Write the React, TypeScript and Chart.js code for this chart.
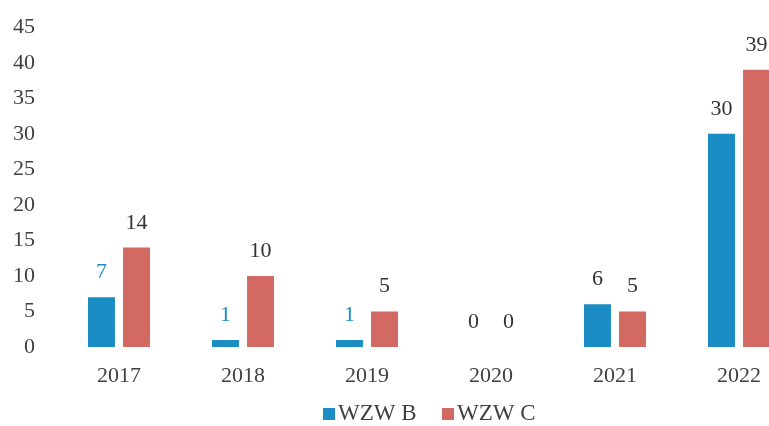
import React, { useEffect, useRef } from "react";
import { Chart, registerables } from "chart.js";

Chart.register(...registerables);

const categories = ["2017", "2018", "2019", "2020", "2021", "2022"];
const seriesB = [7, 1, 1, 0, 6, 30];
const seriesC = [14, 10, 5, 0, 5, 39];
const labelColorsB = ["#1b8cc4", "#1b8cc4", "#1b8cc4", "#333333", "#333333", "#333333"];
const labelColorsC = ["#333333", "#333333", "#333333", "#333333", "#333333", "#333333"];

const COLOR_B = "#1b8cc4";
const COLOR_C = "#d26a63";
const FONT = "'Liberation Serif', 'Times New Roman', serif";

// legend marker: 12px square placed at the right side of a wider transparent image
function makeMarker(color: string) {
  const c = document.createElement("canvas");
  c.width = 36;
  c.height = 12;
  const g = c.getContext("2d")!;
  g.fillStyle = color;
  g.fillRect(24, 0, 12, 12);
  return c;
}

const valueLabels = {
  id: "valueLabels",
  afterDatasetsDraw(chart: any) {
    const ctx = chart.ctx;
    ctx.save();
    ctx.font = `22px ${FONT}`;
    ctx.textAlign = "center";
    ctx.textBaseline = "alphabetic";
    chart.data.datasets.forEach((ds: any, di: number) => {
      const meta = chart.getDatasetMeta(di);
      meta.data.forEach((bar: any, i: number) => {
        ctx.fillStyle = ds.labelColors[i];
        ctx.fillText(String(ds.data[i]), bar.x, bar.y - 19);
      });
    });
    ctx.restore();
  },
};

// nudge the legend box after layout so it sits where the reference has it
const legendShift = {
  id: "legendShift",
  afterLayout(chart: any) {
    const lg = chart.legend;
    if (!lg) return;
    lg.left += 21;
    lg.right += 21;
    lg.top -= 1;
    lg.bottom -= 1;
  },
};

export default function App() {
  const ref = useRef<HTMLCanvasElement>(null);
  useEffect(() => {
    const markers = [makeMarker(COLOR_B), makeMarker(COLOR_C)];
    const chart = new Chart(ref.current!, {
      type: "bar",
      data: {
        labels: categories,
        datasets: [
          {
            label: "WZW B",
            data: seriesB,
            backgroundColor: COLOR_B,
            labelColors: labelColorsB,
            categoryPercentage: 0.565,
            barPercentage: 0.77,
          } as any,
          {
            label: "WZW C",
            data: seriesC,
            backgroundColor: COLOR_C,
            labelColors: labelColorsC,
            categoryPercentage: 0.565,
            barPercentage: 0.77,
          } as any,
        ],
      },
      options: {
        responsive: false,
        animation: false,
        layout: { padding: { left: 0, top: 17, right: 57, bottom: -10 } },
        scales: {
          x: {
            grid: { display: false, drawTicks: false },
            border: { display: false },
            afterFit(scale: any) {
              scale.height = 46;
            },
            ticks: { color: "#404040", font: { family: FONT, size: 22 }, padding: 16 },
          },
          y: {
            min: 0,
            max: 45,
            grid: { display: false },
            border: { display: false },
            afterFit(scale: any) {
              scale.width = 57;
            },
            ticks: {
              stepSize: 5,
              color: "#404040",
              font: { family: FONT, size: 22 },
              padding: 14,
            },
          },
        },
        plugins: {
          legend: {
            position: "bottom",
            labels: {
              usePointStyle: true,
              pointStyleWidth: 19,
              boxHeight: 12,
              color: "#404040",
              font: { family: FONT, size: 23 },
              padding: 10,
              generateLabels(chart: any) {
                const items = Chart.defaults.plugins.legend.labels.generateLabels(chart);
                return items.map((it: any, i: number) => ({ ...it, pointStyle: markers[i] }));
              },
            },
          },
          tooltip: { enabled: false },
        },
      },
      plugins: [valueLabels, legendShift],
    });
    return () => chart.destroy();
  }, []);
  return (
    <div style={{ position: "absolute", left: 0, top: 0, width: 769, height: 426, overflow: "hidden", background: "#fff" }}>
      <canvas ref={ref} width={858} height={426} />
    </div>
  );
}
